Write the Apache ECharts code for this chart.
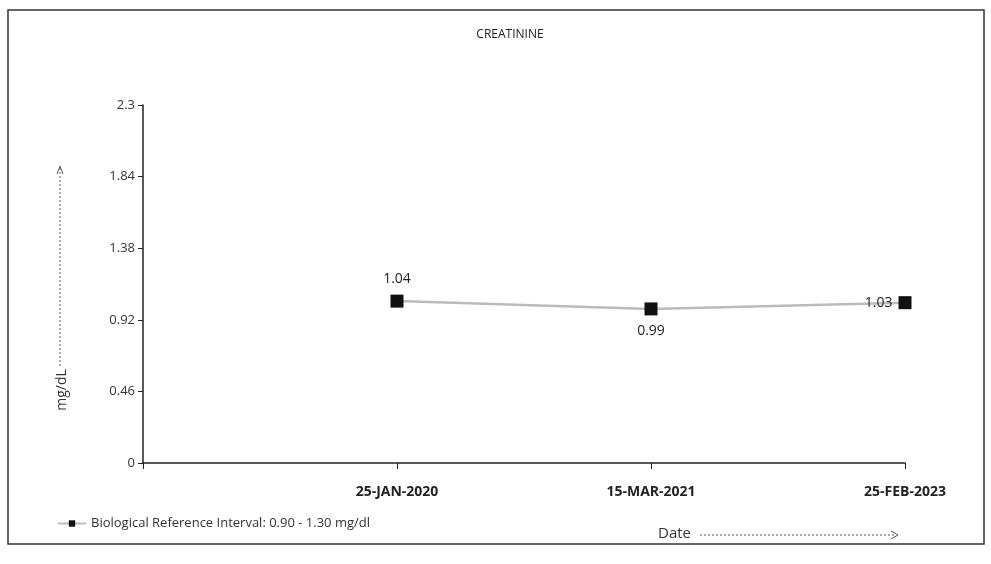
<!DOCTYPE html>
<html>
<head>
<meta charset="utf-8">
<script src="https://cdn.jsdelivr.net/npm/echarts@6/dist/echarts.min.js"></script>
<style>html,body{margin:0;padding:0;background:#fff;}#c{width:991px;height:564px;}</style>
</head>
<body>
<div id="c"></div>
<script>
const categories = ["", "25-JAN-2020", "15-MAR-2021", "25-FEB-2023"];
const values = ["-", 1.04, 0.99, 1.03];
const yTicks = [0, 0.46, 0.92, 1.38, 1.84, 2.3];
const seriesName = "Biological Reference Interval: 0.90 - 1.30 mg/dl";
const labelPos = [null, "top", "bottom", "left"];

const FONT = "'Open Sans', 'Noto Sans', sans-serif";
const chart = echarts.init(document.getElementById('c'));
chart.setOption({
  animation: false,
  backgroundColor: '#fff',
  title: {
    text: 'CREATININE', left: 505, top: 24, textAlign: 'center',
    textStyle: { fontFamily: FONT, fontSize: 12, fontWeight: 'normal', color: '#222' }
  },
  grid: { left: 143, right: 86, top: 105, bottom: 101 },
  legend: {
    left: 52, top: 512, itemWidth: 28, itemHeight: 8, itemGap: 6,
    textStyle: { fontFamily: FONT, fontSize: 13, color: '#333' },
    data: [seriesName]
  },
  xAxis: {
    type: 'category', data: categories, boundaryGap: false,
    axisLine: { lineStyle: { color: '#222', width: 1.5 } },
    axisTick: { lineStyle: { color: '#222' }, length: 6 },
    axisLabel: { margin: 22, fontFamily: FONT, fontSize: 14, color: '#222', fontWeight: 'bold' },
    splitLine: { show: false }
  },
  yAxis: {
    type: 'value', min: 0, max: 2.3, interval: 0.46,
    axisLine: { show: true, lineStyle: { color: '#222', width: 1.5 } },
    axisTick: { show: true, lineStyle: { color: '#222' }, length: 5 },
    axisLabel: {
      margin: 8, fontFamily: FONT, fontSize: 13, color: '#333',
      formatter: v => { const t = yTicks.find(x => Math.abs(x - v) < 1e-6); return t === undefined ? '' : String(t); }
    },
    splitLine: { show: false }
  },
  series: [{
    name: seriesName, type: 'line', data: values.map((v, i) => ({
      value: v,
      label: { show: v !== '-', position: labelPos[i] || 'top', distance: i === 3 ? 6 : 9 }
    })),
    symbol: 'rect', symbolSize: 13,
    itemStyle: { color: '#111' },
    lineStyle: { color: '#bbb', width: 2.5 },
    label: { fontFamily: FONT, fontSize: 14, color: '#222' },
    connectNulls: false
  }],
  graphic: [
    { type: 'rect', shape: { x: 8, y: 10, width: 976, height: 534 }, style: { fill: 'none', stroke: '#333', lineWidth: 1.5 }, silent: true },
    { type: 'text', x: 62, y: 390, rotation: Math.PI / 2, style: { text: 'mg/dL', font: "14px 'Open Sans', sans-serif", fill: '#333', textAlign: 'center', textVerticalAlign: 'middle' } },
    { type: 'line', shape: { x1: 60, y1: 366, x2: 60, y2: 168 }, style: { stroke: '#555', lineWidth: 1, lineDash: [2, 2] } },
    { type: 'polyline', shape: { points: [[57, 174], [60, 166], [63, 174]] }, style: { stroke: '#555', lineWidth: 1, fill: 'none' } },
    { type: 'text', x: 658, y: 534, style: { text: 'Date', font: "15px 'Open Sans', sans-serif", fill: '#333', textVerticalAlign: 'middle' } },
    { type: 'line', shape: { x1: 700, y1: 535, x2: 895, y2: 535 }, style: { stroke: '#555', lineWidth: 1, lineDash: [2, 2] } },
    { type: 'polyline', shape: { points: [[891, 531], [898, 535], [891, 539]] }, style: { stroke: '#555', lineWidth: 1, fill: 'none' } }
  ]
});
</script>
</body>
</html>
